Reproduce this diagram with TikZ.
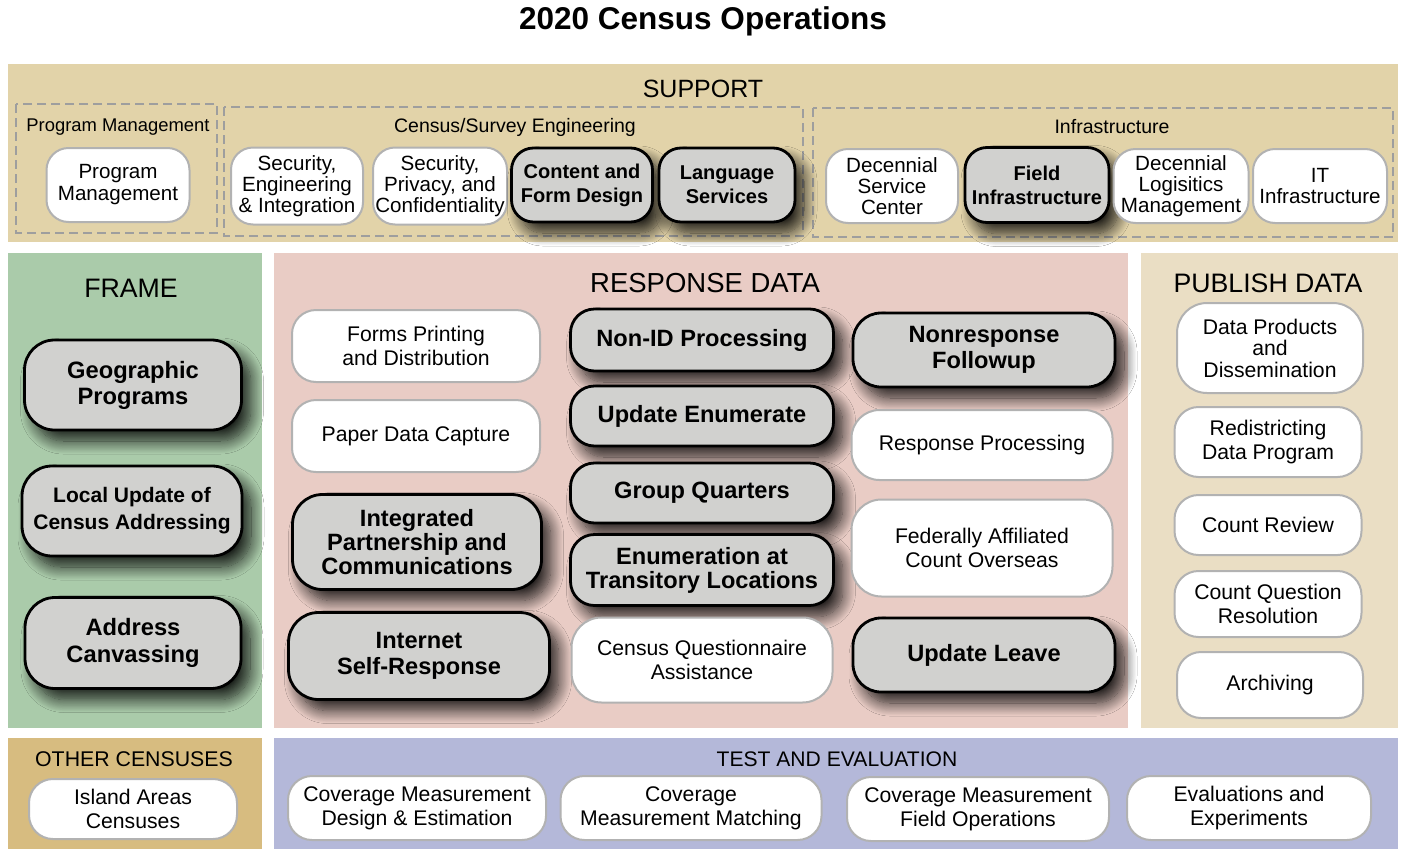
\documentclass[tikz,border=0pt]{standalone}
\usepackage{fontspec}
\setmainfont{Liberation Sans}
\usepackage{xcolor}
\usetikzlibrary{shadows,shadows.blur}

\definecolor{supportbg}{HTML}{E2D3A9}
\definecolor{framebg}{HTML}{AACBAA}
\definecolor{respbg}{HTML}{E9CCC5}
\definecolor{pubbg}{HTML}{EADEC4}
\definecolor{otherbg}{HTML}{D7BC80}
\definecolor{testbg}{HTML}{B4B8D9}
\definecolor{boxgray}{HTML}{D1D1CF}
\definecolor{edgegray}{HTML}{B2B2B2}
\definecolor{dashgray}{HTML}{9E9E9E}

\tikzset{box size/.style 2 args={minimum width=#1pt, minimum height=#2pt}}

\begin{document}
\begin{tikzpicture}[x=1pt, y=-1pt,
    gray node/.style={draw=black, line width=2.8pt, fill=boxgray, rounded corners=24pt,
      align=center, inner sep=0pt, font=\bfseries\fontsize{23.6}{24}\selectfont,
      blur shadow={shadow xshift=9pt, shadow yshift=-11pt, shadow blur radius=13pt,
        shadow blur steps=16, shadow opacity=85}},
    white node/.style={draw=edgegray, line width=2pt, fill=white, rounded corners=24pt,
      align=center, inner sep=0pt, font=\fontsize{21.2}{24}\selectfont},
    support gray/.style={gray node, rounded corners=22pt, font=\bfseries\fontsize{20}{24}\selectfont},
    support white/.style={white node, rounded corners=22pt, font=\fontsize{20.6}{21}\selectfont},
    panel title/.style={font=\fontsize{26.7}{28}\selectfont},
    group title/.style={font=\fontsize{19.5}{21}\selectfont},
    group box/.style={draw=dashgray, line width=2.4pt, dash pattern=on 9pt off 5pt}]

  \useasboundingbox[fill=white] (0,0) rectangle (1403,849);

  \node[font=\bfseries\fontsize{31.5}{33}\selectfont] (title) at (703,21) {2020 Census Operations};

  % panels
  \fill[supportbg] (8,64) rectangle (1398,242);
  \fill[framebg] (8,253) rectangle (262,728);
  \fill[respbg] (274,253) rectangle (1128,728);
  \fill[pubbg] (1141,253) rectangle (1398,728);
  \fill[otherbg] (8,738) rectangle (262,849);
  \fill[testbg] (274,738) rectangle (1398,849);

  \draw[group box] (16,104) rectangle (217,233);
  \draw[group box] (224,107) rectangle (803,236);
  \draw[group box] (813,108) rectangle (1393,237);

  \node[panel title, font=\fontsize{25}{26}\selectfont] (support) at (703,89) {SUPPORT};
  \node[group title, font=\fontsize{18.4}{20}\selectfont] (pmg) at (118,127) {Program Management};
  \node[group title] (cse) at (515,127) {Census/Survey Engineering};
  \node[group title] (infra) at (1112,127) {Infrastructure};
  \node[panel title] (frame) at (131,288) {FRAME};
  \node[panel title, font=\fontsize{27.5}{29}\selectfont] (resp) at (705,283) {RESPONSE DATA};
  \node[panel title] (pub) at (1268,283) {PUBLISH DATA};
  \node[font=\fontsize{21.3}{23}\selectfont] (other) at (134,759) {OTHER CENSUSES};
  \node[font=\fontsize{21.1}{23}\selectfont] (test) at (837,759) {TEST AND EVALUATION};

  % support
  \node[support white, box size={143}{74}, font=\fontsize{20.6}{22}\selectfont] (pm) at (118,185) {Program\\Management};
  \node[support white, box size={132}{77}] (sei) at (297,186) {Security,\\Engineering\\\& Integration};
  \node[support white, box size={134}{77}] (spc) at (440,186) {Security,\\Privacy, and\\Confidentiality};
  \node[support gray, box size={141}{74}] (cfd) at (582,185) {Content and\\Form Design};
  \node[support gray, box size={136}{74}] (lang) at (727,185) {Language\\Services};
  \node[support white, box size={132}{74}] (dsc) at (892,186) {Decennial\\Service\\Center};
  \node[support gray, box size={144}{75}] (fi) at (1037,185) {Field\\Infrastructure};
  \node[support white, box size={135}{74}] (dlm) at (1181,186) {Decennial\\Logisitics\\Management};
  \node[support white, box size={134}{74}] (it) at (1320,186) {IT\\Infrastructure};

  % frame
  \node[gray node, box size={217}{90}, rounded corners=30pt,
    font=\bfseries\fontsize{23.7}{26}\selectfont] (geo) at (133,385) {Geographic\\Programs};
  \node[gray node, box size={220}{90}, rounded corners=30pt,
    font=\bfseries\fontsize{21}{27}\selectfont] (lucs) at (132,511) {Local Update of\\Census Addressing};
  \node[gray node, box size={216}{91}, rounded corners=30pt,
    font=\bfseries\fontsize{23.7}{27}\selectfont] (ac) at (133,643) {Address\\Canvassing};

  % response data
  \node[white node, box size={248}{72}] (fpd) at (416,346) {Forms Printing\\and Distribution};
  \node[white node, box size={248}{72}] (pdc) at (416,436) {Paper Data Capture};
  \node[gray node, box size={249}{95}, rounded corners=30pt] (ipc) at (417,542) {Integrated\\Partnership and\\Communications};
  \node[gray node, box size={261}{87}, rounded corners=30pt,
    font=\bfseries\fontsize{23.6}{26}\selectfont] (isr) at (419,656) {Internet\\Self-Response};
  \node[gray node, box size={263}{62}] (nid) at (702,340) {Non-ID Processing};
  \node[gray node, box size={263}{60}] (ue) at (702,416) {Update Enumerate};
  \node[gray node, box size={263}{60}] (gq) at (702,493) {Group Quarters};
  \node[gray node, box size={263}{71}] (etl) at (702,570) {Enumeration at\\Transitory Locations};
  \node[white node, box size={261}{85}, rounded corners=30pt] (cqa) at (702,660) {Census Questionnaire\\Assistance};
  \node[gray node, box size={262}{74}, rounded corners=28pt,
    font=\bfseries\fontsize{23.6}{26}\selectfont] (nrfu) at (984,350) {Nonresponse\\Followup};
  \node[white node, box size={261}{70}, rounded corners=28pt] (rp) at (982,445) {Response Processing};
  \node[white node, box size={261}{97}, rounded corners=30pt] (faco) at (982,548) {Federally Affiliated\\Count Overseas};
  \node[gray node, box size={262}{74}, rounded corners=28pt] (ul) at (984,655) {Update Leave};

  % publish data
  \node[white node, box size={186}{90}, rounded corners=30pt,
    font=\fontsize{21.2}{21.5}\selectfont] (dpd) at (1270,348) {Data Products\\and\\Dissemination};
  \node[white node, box size={187}{70}] (rdp) at (1268,442) {Redistricting\\Data Program};
  \node[white node, box size={187}{60}] (cr) at (1268,525) {Count Review};
  \node[white node, box size={187}{66}] (cqr) at (1268,604) {Count Question\\Resolution};
  \node[white node, box size={186}{66}] (arch) at (1270,685) {Archiving};

  % other censuses, test and evaluation
  \node[white node, box size={208}{60}] (iac) at (133,809) {Island Areas\\Censuses};
  \node[white node, box size={258}{64}] (cmde) at (417,808) {Coverage Measurement\\Design \& Estimation};
  \node[white node, box size={261}{64}] (cmm) at (691,808) {Coverage\\Measurement Matching};
  \node[white node, box size={262}{64}] (cmfo) at (978,809) {Coverage Measurement\\Field Operations};
  \node[white node, box size={244}{64}] (ee) at (1249,808) {Evaluations and\\Experiments};
\end{tikzpicture}
\end{document}
